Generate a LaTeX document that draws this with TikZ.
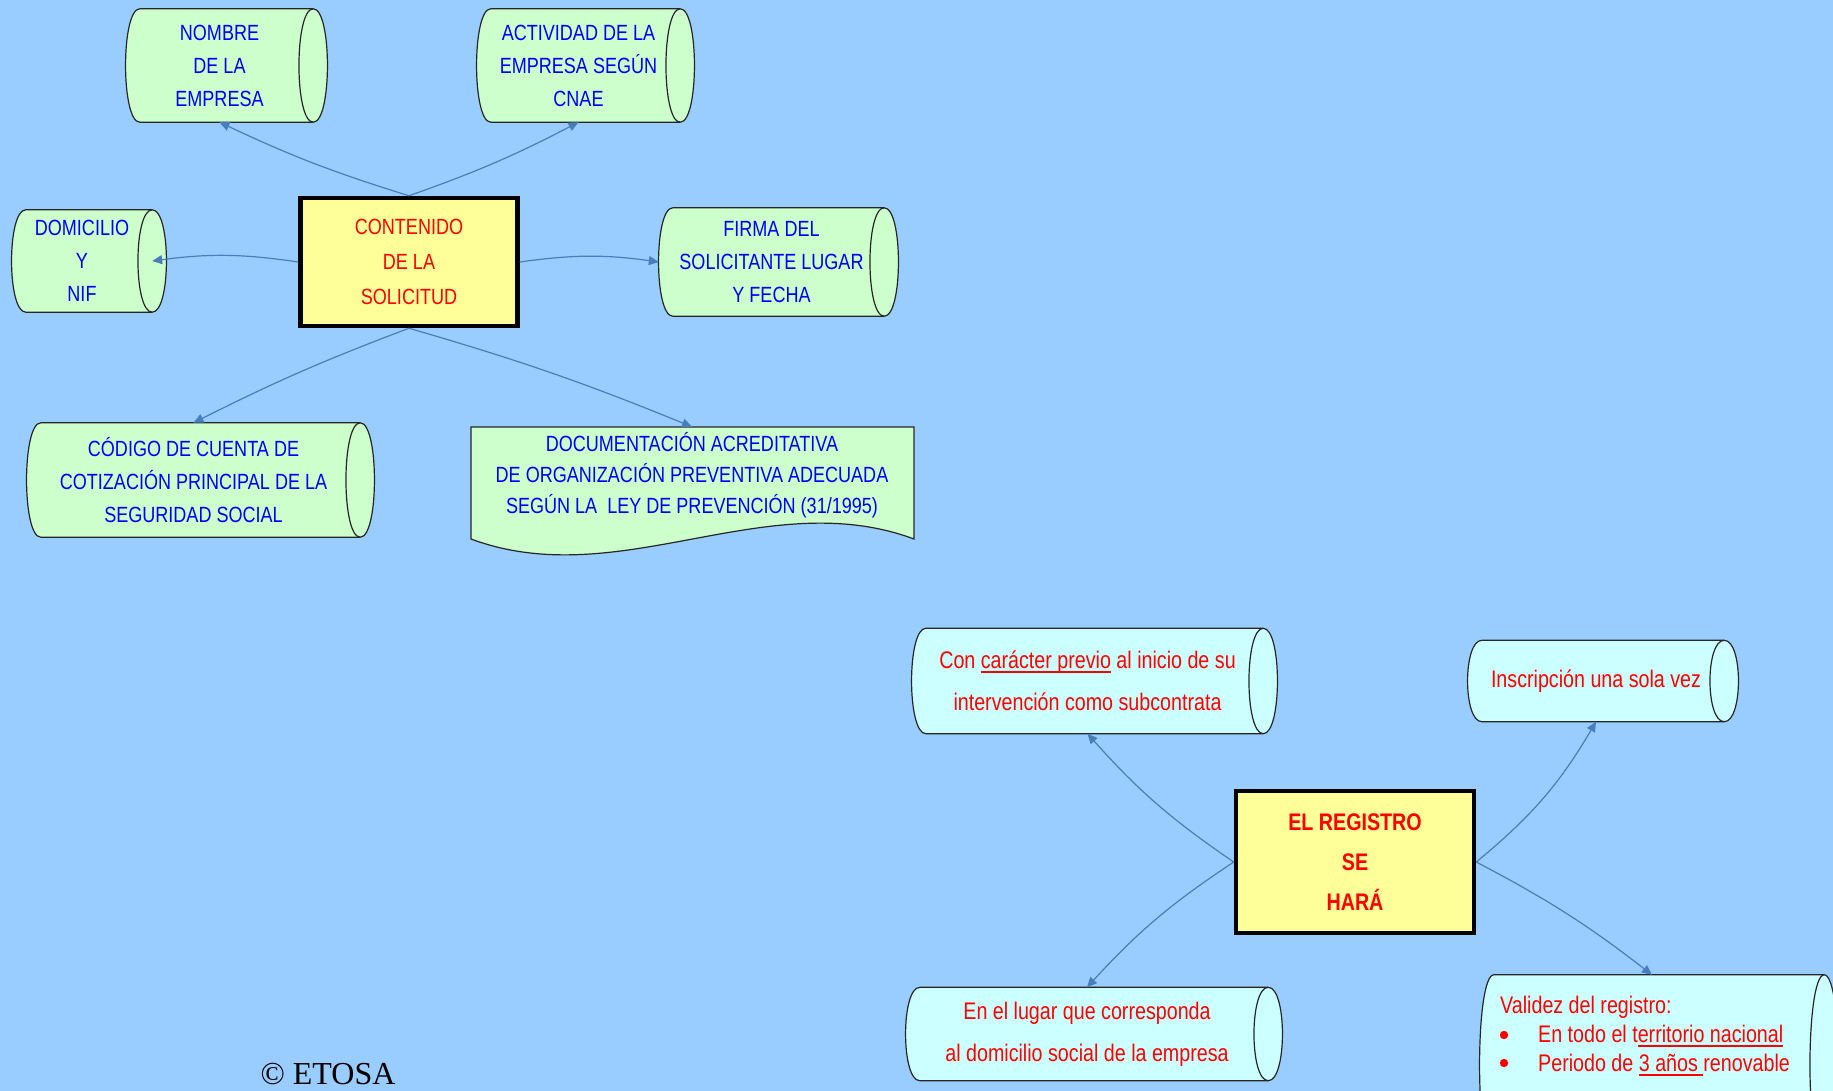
\documentclass[tikz,border=0pt]{standalone}
\usepackage{fontspec}
\setmainfont{Liberation Sans}[FakeStretch=0.82]
\newfontfamily\serifetosa{Liberation Serif}
\usepackage{tikz}
\usetikzlibrary{backgrounds}
\usetikzlibrary{arrows.meta}
\definecolor{fondo}{RGB}{153,204,255}
\definecolor{verde}{RGB}{204,255,204}
\definecolor{celeste}{RGB}{204,255,255}
\definecolor{amarillo}{RGB}{255,255,153}
\definecolor{azul}{RGB}{0,0,255}
\definecolor{rojo}{RGB}{255,0,0}
\definecolor{flecha}{RGB}{74,126,187}
\newsavebox{\cajasub}
\newcommand{\subrayado}[1]{\sbox{\cajasub}{#1}\rlap{\rule[-4pt]{\wd\cajasub}{1.6pt}}\usebox{\cajasub}}

\begin{document}
\begin{tikzpicture}[x=1pt,y=-1pt,
	dato/.style={rectangle,inner sep=0pt,text=azul,align=center,font=\fontsize{22pt}{33pt}\selectfont},
	nota/.style={dato,text=rojo,font=\fontsize{24pt}{42pt}\selectfont},
	titulo/.style={rectangle,draw=black,line width=4.5pt,fill=amarillo,text=rojo,align=center},
	borde/.style={draw=black!85,line width=1.2pt},
	conector/.style={draw=flecha,line width=1.2pt,-{Triangle[length=10pt,width=9pt]}}]
	\useasboundingbox (0,0) rectangle (1833,1091);
	\clip (0,0) rectangle (1833,1091);

	% contenido de la solicitud
	\node[dato,minimum width=159pt,minimum height=113pt] (nom) at (219.5,65.5) {NOMBRE\\DE LA\\EMPRESA};
	\node[dato,minimum width=175pt,minimum height=113pt] (act) at (578.5,65.5) {ACTIVIDAD DE LA\\EMPRESA SEGÚN\\CNAE};
	\node[dato,minimum width=112pt,minimum height=102pt] (dom) at (82,261) {DOMICILIO\\Y\\NIF};
	\node[titulo,minimum width=217pt,minimum height=128pt,font=\fontsize{22pt}{35pt}\selectfont] (cont) at (409,262) {CONTENIDO\\DE LA\\SOLICITUD};
	\node[dato,minimum width=197pt,minimum height=108pt] (fir) at (771.5,262) {FIRMA DEL\\SOLICITANTE LUGAR\\Y FECHA};
	\node[dato,minimum width=305pt,minimum height=114pt] (cod) at (193.5,480) {CÓDIGO DE CUENTA DE\\COTIZACIÓN PRINCIPAL DE LA\\SEGURIDAD SOCIAL};
	\node[dato,minimum width=443pt,minimum height=96pt,font=\fontsize{22pt}{31pt}\selectfont] (doc) at (692,475) {DOCUMENTACIÓN ACREDITATIVA\\DE ORGANIZACIÓN PREVENTIVA ADECUADA\\SEGÚN LA\ \ LEY DE PREVENCIÓN (31/1995)};

	\draw[conector] (cont.north) to[bend left=4] (nom.south);
	\draw[conector] (cont.north) to[bend right=4] (act.south);
	\draw[conector] (cont.west) to[bend right=8] ([xshift=14pt]dom.east);
	\draw[conector] (cont.east) to[bend left=8] ([xshift=-14pt]fir.west);
	\draw[conector] (cont.south) to[bend right=3] (cod.north);
	\draw[conector] (cont.south) to[bend left=3] (doc.north);

	% el registro
	\node[nota,minimum width=323pt,minimum height=105pt] (con) at (1087.5,681) {Con \subrayado{carácter previo} al inicio de su\\intervención como subcontrata};
	\node[nota,minimum width=228pt,minimum height=81pt] (ins) at (1596,681) {Inscripción una sola vez};
	\node[titulo,minimum width=238pt,minimum height=142pt,font=\bfseries\fontsize{24pt}{40pt}\selectfont] (reg) at (1355,862) {EL REGISTRO\\SE\\HARÁ};
	\node[nota,minimum width=334pt,minimum height=93pt] (lug) at (1087,1034) {En el lugar que corresponda\\al domicilio social de la empresa};
	\node[nota,minimum width=316pt,minimum height=180pt] (val) at (1652,1065) {};
	\node[text=rojo,align=left,inner sep=0pt,anchor=north west,font=\fontsize{24pt}{29pt}\selectfont] (valtxt) at (1500,996) {Validez del registro:\\\hspace*{38pt}En todo el t\subrayado{erritorio nacional}\\\hspace*{38pt}Periodo de \subrayado{3 años }renovable};
	\foreach \y in {1035,1063}
		\fill[rojo] (1504,\y) circle (4.2pt);

	\draw[conector] (reg.west) to[bend left=7] (con.south);
	\draw[conector] (reg.west) to[bend right=7] (lug.north);
	\draw[conector] (reg.east) to[bend right=10] (ins.south);
	\draw[conector] (reg.east) to[bend left=5] (val.north);

	\node[font=\serifetosa\fontsize{32pt}{36pt}\selectfont,anchor=base,inner sep=0pt] (etosa) at (328,1084) {© ETOSA};

	\begin{pgfonlayer}{background}
		\fill[fondo] (0,0) rectangle (1833,1091);
		\foreach \n/\c in {nom/verde,act/verde,dom/verde,fir/verde,cod/verde,con/celeste,ins/celeste,lug/celeste,val/celeste}{
			\draw[borde,fill=\c] (\n.north west) -- ([xshift=14pt]\n.north east)
				.. controls ([xshift=33pt]\n.north east) and ([xshift=33pt]\n.south east) .. ([xshift=14pt]\n.south east)
				-- (\n.south west) .. controls ([xshift=-19pt]\n.south west) and ([xshift=-19pt]\n.north west) .. (\n.north west) -- cycle;
			\draw[borde] ([xshift=14pt]\n.north east) .. controls ([xshift=-5pt]\n.north east) and ([xshift=-5pt]\n.south east) .. ([xshift=14pt]\n.south east);
		}
		\draw[borde,fill=verde] (471,427) -- (914,427) -- (914,539) .. controls (766,484) and (619,594) .. (471,539) -- cycle;
	\end{pgfonlayer}
\end{tikzpicture}
\end{document}
